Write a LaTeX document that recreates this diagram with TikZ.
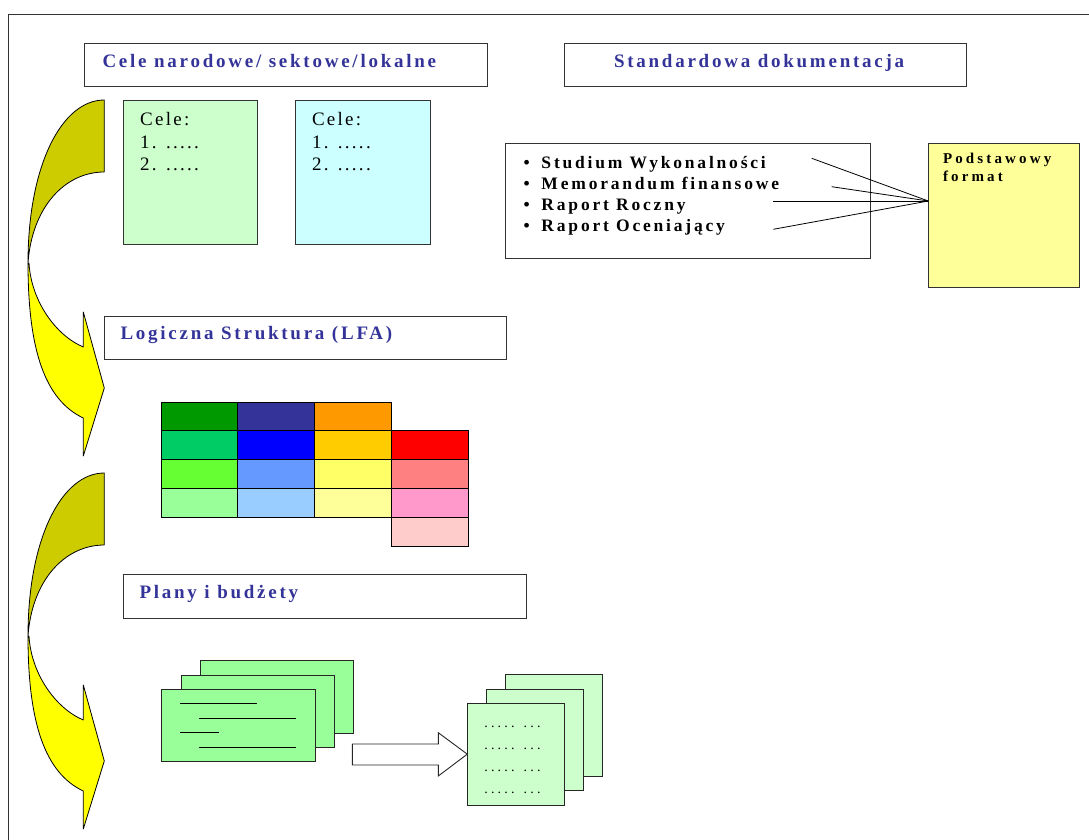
\documentclass[tikz,border=0pt]{standalone}
\usepackage{fontspec}
\setmainfont{Liberation Serif}
\newfontfamily\fTitle[LetterSpace=14.5]{Liberation Serif}
\newfontfamily\fBul[LetterSpace=16]{Liberation Serif}
\newfontfamily\fPod[LetterSpace=21]{Liberation Serif}
\newfontfamily\fCele[LetterSpace=12]{Liberation Serif}
\newfontfamily\fDots[LetterSpace=23]{Liberation Serif}
\definecolor{ttlblue}{HTML}{333399}
\definecolor{arrOlive}{HTML}{CCCC00}
\definecolor{arrYellow}{HTML}{FFFF00}
\definecolor{boxGreen}{HTML}{CCFFCC}
\definecolor{boxCyan}{HTML}{CCFFFF}
\definecolor{boxYellow}{HTML}{FFFF99}
\definecolor{docGreen}{HTML}{99FF99}
\definecolor{docLight}{HTML}{CCFFCC}
\tikzset{
  box/.style={draw=black!80, line width=0.9pt, inner sep=0pt, outer sep=0pt},
  lbl/.style={anchor=base west, inner sep=0pt, outer sep=0pt},
  ttl/.style={lbl, text=ttlblue, font=\fTitle\bfseries\fontsize{19}{22}\selectfont},
  celetxt/.style={lbl, font=\fCele\fontsize{19}{22}\selectfont},
  bultxt/.style={lbl, font=\fBul\bfseries\fontsize{17.5}{20}\selectfont},
  podtxt/.style={lbl, font=\fPod\bfseries\fontsize{15}{18}\selectfont},
  dotstxt/.style={lbl, font=\fDots\fontsize{14}{16}\selectfont},
  cell/.style={draw=black, line width=0.8pt, minimum width=76.75pt, minimum height=28.85pt, inner sep=0pt, outer sep=0pt},
  doc/.style={draw=black!85, line width=0.9pt, inner sep=0pt, outer sep=0pt},
  conn/.style={draw=black, line width=0.8pt},
  ribbon/.style={draw=black, line width=0.8pt, line join=round},
}
\begin{document}
\begin{tikzpicture}[x=1pt,y=-1pt]
\useasboundingbox (0,0) rectangle (1089,840);
% frame
\draw[black!80, line width=0.9pt] (8,840) -- (8,14) -- (1089,14);

% curved arrows
\foreach \dy in {0,373}{
  \begin{scope}[shift={(0,\dy)}]
    \path[ribbon, fill=arrOlive] (104.3,100) .. controls (62,100) and (28,165) .. (28,263)
      .. controls (32,207) and (65,172) .. (104.3,172) -- cycle;
    \path[ribbon, fill=arrYellow] (29,263) .. controls (31,300) and (55,335) .. (83.3,347)
      -- (83.3,312) -- (104.3,388) -- (83.3,456) -- (83.3,418)
      .. controls (45,400) and (28,350) .. (28,263) -- cycle;
  \end{scope}
}

% title boxes
\node[box, minimum width=403pt, minimum height=43pt] (b1) at (285.5,64.5) {};
\node[box, minimum width=402pt, minimum height=43pt] (b2) at (765,64.5) {};
\node[ttl] (t1) at (102.5,67.3) {Cele narodowe/ sektowe/lokalne};
\node[ttl] (t2) at (614,67.3) {Standardowa dokumentacja};

% cele boxes
\node[box, fill=boxGreen, minimum width=134.4pt, minimum height=144.4pt] (g1) at (190.5,172.2) {};
\node[box, fill=boxCyan, minimum width=135pt, minimum height=144.4pt] (c1) at (362.8,172.2) {};
\node[celetxt] (g1a) at (140.2,125) {Cele:};
\node[celetxt] (g1b) at (140.2,148.3) {1. .....};
\node[celetxt] (g1c) at (140.2,170) {2. .....};
\node[celetxt] (c1a) at (312,125) {Cele:};
\node[celetxt] (c1b) at (312,148.3) {1. .....};
\node[celetxt] (c1c) at (312,170) {2. .....};

% bullet box and format box
\node[box, minimum width=364.5pt, minimum height=115.2pt] (bl) at (687.75,200.9) {};
\node[box, fill=boxYellow, minimum width=151.5pt, minimum height=144pt] (yb) at (1003.75,215.3) {};
\node[bultxt] (l1) at (523.5,168.3) {\makebox[18pt][l]{\textbullet}Studium Wykonalności};
\node[bultxt] (l2) at (523.5,189.3) {\makebox[18pt][l]{\textbullet}Memorandum finansowe};
\node[bultxt] (l3) at (523.5,210.6) {\makebox[18pt][l]{\textbullet}Raport Roczny};
\node[bultxt] (l4) at (523.5,231.7) {\makebox[18pt][l]{\textbullet}Raport Oceniający};
\node[podtxt] (p1) at (943,164) {Podstawowy};
\node[podtxt] (p2) at (943,181.7) {format};
\coordinate (s1) at (811.7,158.3);
\coordinate (s2) at (831.7,186.7);
\coordinate (s3) at (773.3,201);
\coordinate (s4) at (773.3,229.3);
\coordinate (pf) at (928.3,201);
\draw[conn] (s1) -- (pf);
\draw[conn] (s2) -- (pf);
\draw[conn] (s3) -- (pf);
\draw[conn] (s4) -- (pf);

% LFA
\node[box, minimum width=402.5pt, minimum height=43pt] (lg) at (305.25,337.5) {};
\node[ttl] (t3) at (120.5,339.5) {Logiczna Struktura (LFA)};
\foreach \r/\c/\col in {1/1/009900,1/2/333399,1/3/FF9900,
  2/1/00CC66,2/2/0000FF,2/3/FFCC00,2/4/FF0000,
  3/1/66FF33,3/2/6699FF,3/3/FFFF66,3/4/FF8080,
  4/1/99FF99,4/2/99CCFF,4/3/FFFF99,4/4/FF99CC,
  5/4/FFCCCC}{
  \definecolor{cellcol}{HTML}{\col}
  \node[cell, fill=cellcol] (cell-\r-\c) at ({161+(\c-0.5)*76.75},{402+(\r-0.5)*28.85}) {};
}

% plans
\node[box, minimum width=402.7pt, minimum height=43.6pt] (pl) at (324.65,596.5) {};
\node[ttl] (t4) at (139.5,598.3) {Plany i budżety};

% left stack
\node[doc, fill=docGreen, minimum width=153.6pt, minimum height=72.4pt] (d3) at (277.1,696.9) {};
\node[doc, fill=docGreen, minimum width=153.6pt, minimum height=72.4pt] (d2) at (257.8,711.2) {};
\node[doc, fill=docGreen, minimum width=153.6pt, minimum height=72.4pt] (d1) at (238.5,725.5) {};
\draw[black, line width=1.3pt] (180,703.3) -- (257.3,703.3);
\draw[black, line width=1.3pt] (199.3,718.3) -- (296,718.3);
\draw[black, line width=1.3pt] (180,732.7) -- (219.3,732.7);
\draw[black, line width=1.3pt] (199.3,747.3) -- (296,747.3);

% right stack
\node[doc, fill=docLight, minimum width=96.7pt, minimum height=101.7pt] (e3) at (554.25,725.55) {};
\node[doc, fill=docLight, minimum width=96.7pt, minimum height=101.7pt] (e2) at (534.95,739.85) {};
\node[doc, fill=docLight, minimum width=96.7pt, minimum height=101.7pt] (e1) at (515.65,754.15) {};
\node[dotstxt] (k1) at (484.3,727.8) {..... ...};
\node[dotstxt] (k2) at (484.3,749.8) {..... ...};
\node[dotstxt] (k3) at (484.3,771.8) {..... ...};
\node[dotstxt] (k4) at (484.3,793.8) {..... ...};

% block arrow
\draw[black!85, line width=0.9pt, fill=white, line join=miter]
  (352.3,744) -- (438.3,744) -- (438.3,732.7) -- (e1.west) -- (438.3,776) -- (438.3,765) -- (352.3,765) -- cycle;
\end{tikzpicture}
\end{document}
